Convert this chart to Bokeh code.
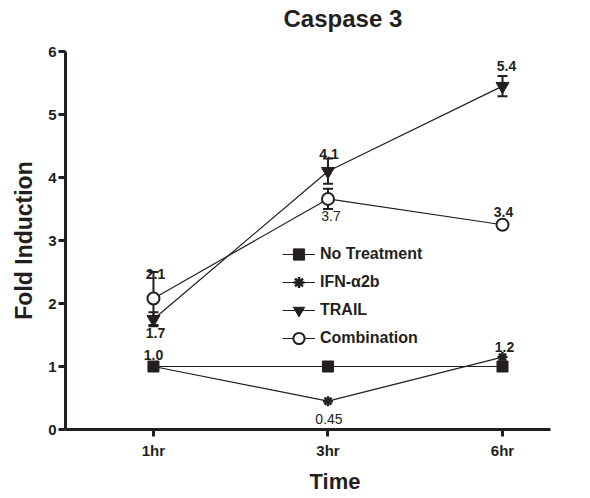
from bokeh.plotting import figure
from bokeh.models import (ColumnDataSource, Whisker, TeeHead, FixedTicker,
                          Legend, LegendItem, Title)
from bokeh.core.properties import value
from bokeh.embed import file_html
from bokeh.resources import INLINE

# ---------------- data ----------------
times = ["1hr", "3hr", "6hr"]
y_ticks = [0, 1, 2, 3, 4, 5, 6]

no_treatment = [1.0, 1.0, 1.0]
ifn_a2b = [1.0, 0.45, 1.15]
trail = [1.75, 4.1, 5.45]
combination = [2.08, 3.66, 3.25]

trail_sem = [0.11, 0.2, 0.16]
combination_sem = [0.42, 0.16, 0.0]

# value annotations: (series, time index, printed text)
label_series = ["combination", "trail", "no_treatment", "trail", "combination",
                "trail", "combination", "ifn", "ifn"]
label_time = [0, 0, 0, 1, 1, 2, 2, 2, 1]
label_text = ["2.1", "1.7", "1.0", "4.1", "3.7", "5.4", "3.4", "1.2", "0.45"]

# ---------------- style ----------------
FONT = "Liberation Sans"
INK = "#231f20"
label_dx = [2, 2, 0, 1, 3, 4, 1, 2, 1]
label_dy = [-24, 14, -12, -17, 17, -20, -13, -10, 18]
label_bold = [True, True, True, True, False, True, True, True, False]

series = {"no_treatment": no_treatment, "ifn": ifn_a2b,
          "trail": trail, "combination": combination}
xs = list(range(len(times)))

p = figure(width=590, height=498, output_backend="svg", toolbar_location=None,
           x_range=(-0.504, 2.275), y_range=(0, 6),
           min_border_left=65, min_border_right=40,
           min_border_top=51, min_border_bottom=63,
           background_fill_color="white", border_fill_color="white",
           outline_line_color=None)
p.xgrid.visible = False
p.ygrid.visible = False

# title (a small blank spacer title sits between it and the frame)
p.add_layout(Title(text=" ", text_font_size="12px", standoff=4), "above")
p.title.text = "Caspase 3"
p.title.align = "left"
p.title.offset = 218
p.title.standoff = 0
p.title.text_font = FONT
p.title.text_font_size = "24px"
p.title.text_font_style = "bold"
p.title.text_color = INK

# axes
for ax in (p.xaxis[0], p.yaxis[0]):
    ax.axis_line_width = 3
    ax.axis_line_color = INK
    ax.major_tick_line_width = 3
    ax.major_tick_line_color = INK
    ax.major_tick_out = 7
    ax.major_tick_in = 0
    ax.minor_tick_line_color = None
    ax.major_label_text_font = FONT
    ax.major_label_text_font_size = "15px"
    ax.major_label_text_font_style = "bold"
    ax.major_label_text_color = INK

p.xaxis.ticker = FixedTicker(ticks=xs)
p.xaxis.major_label_overrides = {i: t for i, t in enumerate(times)}
p.xaxis.major_label_standoff = 5
p.yaxis.ticker = FixedTicker(ticks=y_ticks)
p.yaxis.major_label_standoff = 2
p.yaxis.axis_label = "Fold Induction"
p.yaxis.axis_label_text_font = FONT
p.yaxis.axis_label_text_font_size = "23px"
p.yaxis.axis_label_text_font_style = "bold"
p.yaxis.axis_label_text_color = INK
p.yaxis.axis_label_standoff = 8

p.add_layout(Title(text="Time", align="left", offset=244, text_font=FONT,
                   text_font_size="22px", text_font_style="bold",
                   text_color=INK), "below")

# error bars
for vals, sem in ((trail, trail_sem), (combination, combination_sem)):
    bx = [x for x, s in zip(xs, sem) if s > 0]
    up = [v + s for v, s in zip(vals, sem) if s > 0]
    lo = [v - s for v, s in zip(vals, sem) if s > 0]
    src = ColumnDataSource(dict(x=bx, upper=up, lower=lo))
    p.add_layout(Whisker(source=src, base="x", upper="upper", lower="lower",
                         line_color=INK, line_width=2,
                         upper_head=TeeHead(size=10, line_width=2, line_color=INK),
                         lower_head=TeeHead(size=10, line_width=2, line_color=INK)))

items = []
specs = [
    ("No Treatment", no_treatment, dict(marker="square", size=11, fill_color=INK, line_color=INK)),
    ("IFN-\u03b12b", ifn_a2b, dict(marker="asterisk", size=10, line_width=2.5, line_color=INK)),
    ("TRAIL", trail, dict(marker="inverted_triangle", size=13, fill_color=INK, line_color=INK)),
    ("Combination", combination, dict(marker="circle", size=12, fill_color="white",
                                      line_color=INK, line_width=2)),
]
for name, vals, mk in specs:
    lr = p.line(xs, vals, line_color=INK, line_width=1.2)
    sr = p.scatter(xs, vals, **mk)
    items.append(LegendItem(label=name, renderers=[lr, sr]))

legend = Legend(items=items, location=(217, 77), orientation="vertical",
                glyph_width=33, glyph_height=28, label_height=28, spacing=0,
                padding=0, margin=0, label_standoff=5,
                border_line_color=None, background_fill_alpha=0,
                label_text_font=FONT, label_text_font_size="16px",
                label_text_font_style="bold", label_text_color=INK)
p.add_layout(legend)

# value labels
for bold in (True, False):
    idx = [i for i, b in enumerate(label_bold) if b == bold]
    src = ColumnDataSource(dict(
        x=[label_time[i] for i in idx],
        y=[series[label_series[i]][label_time[i]] for i in idx],
        t=[label_text[i] for i in idx],
        dx=[label_dx[i] for i in idx],
        dy=[label_dy[i] for i in idx]))
    p.text(x="x", y="y", text="t", source=src, x_offset="dx", y_offset="dy",
           text_align="center", text_baseline="middle",
           text_font=value(FONT), text_font_size="14px",
           text_font_style="bold" if bold else "normal", text_color=INK)

open("out.html", "w").write(file_html(p, INLINE))
